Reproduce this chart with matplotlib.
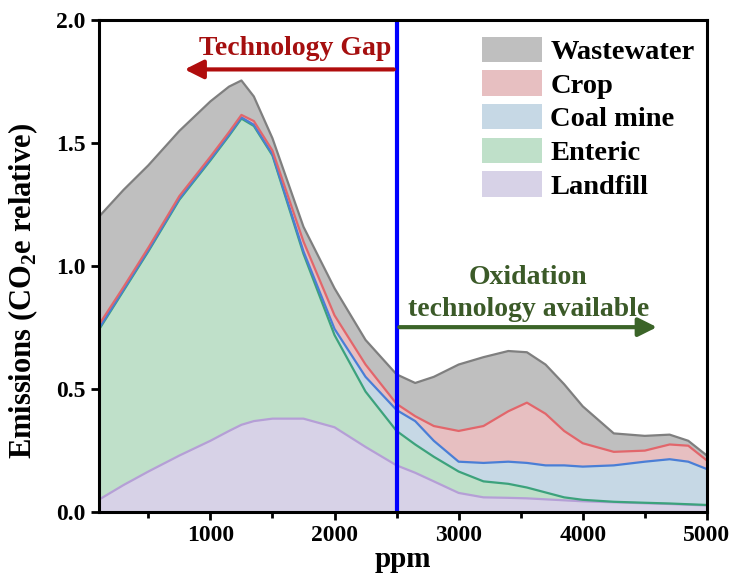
import matplotlib
matplotlib.use('Agg')
import matplotlib.pyplot as plt
import numpy as np

plt.rcParams['font.family'] = ['Liberation Serif', 'DejaVu Serif']
plt.rcParams['font.weight'] = 'bold'
plt.rcParams['mathtext.fontset'] = 'custom'
plt.rcParams['mathtext.rm'] = 'Liberation Serif:bold'
plt.rcParams['mathtext.bf'] = 'Liberation Serif:bold'

# ppm grid
ppm = [100, 300, 500, 750, 1000, 1150, 1250, 1350, 1500, 1750, 2000, 2250, 2500,
       2650, 2800, 3000, 3200, 3400, 3550, 3700, 3850, 4000, 4250, 4500, 4700, 4850, 5000]

# thickness of each layer (stacked bottom -> top)
landfill = [0.05, 0.11, 0.165, 0.23, 0.29, 0.33, 0.355, 0.37, 0.38, 0.38, 0.345, 0.265, 0.19,
            0.16, 0.125, 0.078, 0.06, 0.058, 0.056, 0.052, 0.048, 0.044, 0.04, 0.036, 0.033, 0.03, 0.027]
enteric = [0.69, 0.79, 0.895, 1.04, 1.14, 1.20, 1.245, 1.20, 1.07, 0.67, 0.375, 0.225, 0.14,
           0.115, 0.10, 0.087, 0.065, 0.057, 0.044, 0.028, 0.012, 0.006, 0.002, 0.002, 0.002, 0.002, 0.002]
coal = [0.005, 0.005, 0.005, 0.005, 0.005, 0.005, 0.005, 0.005, 0.005, 0.01, 0.025, 0.06, 0.085,
        0.095, 0.065, 0.04, 0.075, 0.09, 0.10, 0.11, 0.13, 0.135, 0.148, 0.167, 0.18, 0.173, 0.146]
crop = [0.015, 0.01, 0.01, 0.01, 0.01, 0.01, 0.01, 0.015, 0.015, 0.04, 0.055, 0.05, 0.025,
        0.02, 0.06, 0.125, 0.15, 0.205, 0.245, 0.21, 0.14, 0.095, 0.055, 0.045, 0.06, 0.065, 0.035]
wastewater = [0.44, 0.395, 0.335, 0.265, 0.225, 0.185, 0.14, 0.10, 0.05, 0.06, 0.11, 0.10, 0.12,
              0.135, 0.20, 0.27, 0.28, 0.245, 0.205, 0.20, 0.19, 0.15, 0.075, 0.06, 0.04, 0.02, 0.02]

names = ['Landfill', 'Enteric', 'Coal mine', 'Crop', 'Wastewater']
fills = ['#d7d2e7', '#bfe0c9', '#c6d8e5', '#e7bfc1', '#bfbfbf']
edges = ['#b59fd6', '#3ca27c', '#4a7ed6', '#e2666b', '#7f7f7f']

fig = plt.figure(figsize=(7.31, 5.78), dpi=100)
ax = fig.add_axes([0.135, 0.114, 0.832, 0.851])

layers = [landfill, enteric, coal, crop, wastewater]
polys = ax.stackplot(ppm, *layers, colors=fills, labels=names, linewidth=0)
tops = np.cumsum(np.array(layers), axis=0)
for top, c in zip(tops, edges):
    ax.plot(ppm, top, color=c, lw=1.6)

ax.axvline(2500, color='#0000ff', lw=3)

# arrows and notes
ax.annotate('', xy=(770, 1.80), xytext=(2500, 1.80),
            arrowprops=dict(arrowstyle='-|>', color='#b00d0d', lw=3, mutation_scale=28))
ax.text(1680, 1.885, 'Technology Gap', color='#a50f0f', fontsize=20,
        ha='center', va='center', fontweight='bold')
ax.annotate('', xy=(4620, 0.752), xytext=(2500, 0.752),
            arrowprops=dict(arrowstyle='-|>', color='#3b6428', lw=3, mutation_scale=28))
ax.text(3560, 0.955, 'Oxidation', color='#3b5a28', fontsize=20,
        ha='center', va='center', fontweight='bold')
ax.text(3560, 0.822, 'technology available', color='#3b5a28', fontsize=20,
        ha='center', va='center', fontweight='bold')

ax.set_xlim(100, 5000)
ax.set_ylim(0, 2.0)
ax.set_xticks([1000, 2000, 3000, 4000, 5000])
ax.set_xticks([500, 1500, 2500, 3500, 4500], minor=True)
ax.set_yticks([0.0, 0.5, 1.0, 1.5, 2.0])
ax.set_yticklabels(['0.0', '0.5', '1.0', '1.5', '2.0'])
ax.tick_params(axis='both', which='major', direction='out', length=6, width=2, labelsize=17)
ax.tick_params(axis='x', which='minor', direction='out', length=4, width=2)
for s in ax.spines.values():
    s.set_linewidth(2.2)
    s.set_zorder(5)

ax.set_xlabel('ppm', fontsize=21, fontweight='bold', labelpad=0)
ax.set_ylabel(r'Emissions (CO$_2$e relative)', fontsize=22, fontweight='bold')
ax.yaxis.set_label_coords(-0.097, 0.45)

h, l = ax.get_legend_handles_labels()
leg = ax.legend(h[::-1], l[::-1], loc='upper right', bbox_to_anchor=(1.015, 1.01),
                frameon=False, fontsize=20.5, handlelength=2.1, handleheight=1.0,
                handletextpad=0.3, labelspacing=0.18, borderpad=0.25)

fig.savefig('out.png', dpi=100)
